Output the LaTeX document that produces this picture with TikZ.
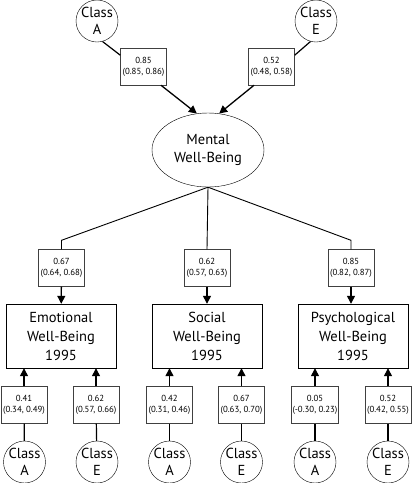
\documentclass[tikz,border=0pt]{standalone}
\usepackage{fontspec}
\setmainfont{PT Sans}
\usetikzlibrary{shapes.geometric,arrows.meta}
\begin{document}
\begin{tikzpicture}[x=1pt,y=-1pt,
	cls/.style={draw,circle,minimum size=42pt,inner sep=-4pt,align=center,font=\fontsize{14.5}{17}\selectfont},
	est/.style={draw=black!75,minimum width=46pt,minimum height=37pt,inner sep=1pt,align=center,font=\fontsize{8.8}{11}\selectfont},
	wb/.style={draw,minimum width=110pt,minimum height=64pt,inner sep=1pt,align=center,font=\fontsize{14.5}{19}\selectfont},
	arr/.style={-{Triangle[length=8pt,width=8pt]},line width=1.3pt},
	ln/.style={line width=1.2pt},
	thin ln/.style={line width=0.9pt}]
	\useasboundingbox (0,0) rectangle (415,483);
	
	\node[cls] (tA) at (97,21) {Class\\A};
	\node[cls] (tE) at (316,21) {Class\\E};
	\node[est] (p085) at (143.5,66.5) {0.85\\(0.85, 0.86)};
	\node[est] (p052) at (271.5,66.5) {0.52\\(0.48, 0.58)};
	\node[draw,ellipse,minimum width=112pt,minimum height=74pt,inner sep=0pt,align=center,font=\fontsize{14.5}{18}\selectfont] (mwb) at (208,150) {Mental\\Well-Being};
	
	\draw[ln] (tA.-75) -- (p085.154);
	\draw[ln] (tE.-105) -- (p052.26);
	\draw[arr] (p085.-47) -- (mwb.107);
	\draw[arr] (p052.-133) -- (mwb.73);
	
	\node[est] (p067) at (61.5,268) {0.67\\(0.64, 0.68)};
	\node[est] (p062) at (207,268) {0.62\\(0.57, 0.63)};
	\node[est] (p085b) at (351,268) {0.85\\(0.82, 0.87)};
	
	\draw[thin ln] (mwb.south) -- ([yshift=9pt]p067.north) -- (p067.north);
	\draw[thin ln] (mwb.south) -- (p062.north);
	\draw[thin ln] (mwb.south) -- ([yshift=9pt]p085b.north) -- (p085b.north);
	
	\node[wb] (emo) at (61,336) {Emotional\\Well-Being\\1995};
	\node[wb] (soc) at (207,336) {Social\\Well-Being\\1995};
	\node[wb] (psy) at (353,336) {Psychological\\Well-Being\\1995};
	
	\draw[arr] (p067) -- (emo);
	\draw[arr] (p062) -- (soc);
	\draw[arr] (p085b.south) -- (p085b.south |- psy.north);
	
	\node[est] (e1) at (24,405) {0.41\\(0.34, 0.49)};
	\node[est] (e2) at (96,405) {0.62\\(0.57, 0.66)};
	\node[est] (s1) at (169.5,405) {0.42\\(0.31, 0.46)};
	\node[est] (s2) at (241.5,405) {0.67\\(0.63, 0.70)};
	\node[est] (q1) at (315,405) {0.05\\(-0.30, 0.23)};
	\node[est] (q2) at (388,405) {0.52\\(0.42, 0.55)};
	
	\node[cls] (ce1) at (24.5,462) {Class\\A};
	\node[cls] (ce2) at (97,462) {Class\\E};
	\node[cls] (cs1) at (169.5,462) {Class\\A};
	\node[cls] (cs2) at (241.5,462) {Class\\E};
	\node[cls] (cq1) at (315,462) {Class\\A};
	\node[cls] (cq2) at (388,462) {Class\\E};
	
	\draw[ln] (ce1) -- (e1);
	\draw[ln] (ce2) -- (e2);
	\draw[ln] (cs1) -- (s1);
	\draw[ln] (cs2) -- (s2);
	\draw[ln] (cq1) -- (q1);
	\draw[ln] (cq2) -- (q2);
	
	\draw[arr] (e1.north) -- (e1.north |- emo.south);
	\draw[arr] (e2.north) -- (e2.north |- emo.south);
	\draw[arr] (s1.north) -- (s1.north |- soc.south);
	\draw[arr] (s2.north) -- (s2.north |- soc.south);
	\draw[arr] (q1.north) -- (q1.north |- psy.south);
	\draw[arr] (q2.north) -- (q2.north |- psy.south);
\end{tikzpicture}
\end{document}
